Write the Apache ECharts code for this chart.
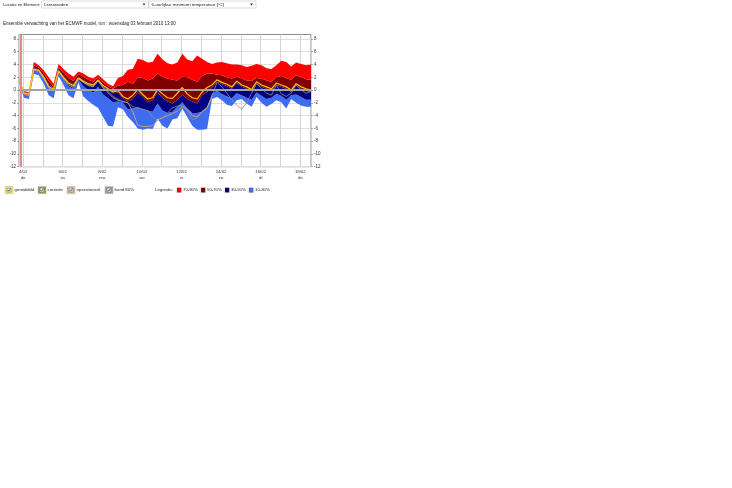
<!DOCTYPE html>
<html><head><meta charset="utf-8">
<script src="https://cdn.jsdelivr.net/npm/echarts@6/dist/echarts.min.js"></script>
<style>html,body{margin:0;padding:0;background:#fff}#c{width:732px;height:488px}</style>
</head><body><div id="c"></div>
<script>
// ---- data (6-hourly steps after run 03-02-2010 13:00) ----
const runStartUTC = Date.UTC(2010, 1, 3, 13);
const stepHours = 6;
const p10 = [1.3,-1.2,-1.4,2.5,2.3,1.0,-0.8,-1.3,2.2,0.8, -0.8,-1.3,1.2,-1.0,-1.7,-2.3,-2.8,-4.2,-5.6,-5.7, -2.7,-3.0,-4.2,-5.0,-6.0,-6.2,-6.0,-6.1,-4.5,-5.6, -6.0,-4.6,-4.4,-2.9,-4.2,-5.6,-6.2,-6.2,-6.1,-1.4, -1.1,-1.6,-2.3,-2.5,-1.6,-1.4,-2.1,-2.6,-1.1,-2.0, -2.6,-2.2,-1.6,-1.9,-2.9,-1.4,-2.0,-2.4,-2.6,-2.6];
const p30 = [1.4,-0.7,-0.9,3.1,2.9,1.8,0.4,-0.3,2.8,1.7, 0.6,0.2,1.7,0.6,0.0,-0.4,0.5,-0.7,-1.3,-1.9, -1.8,-2.0,-3.0,-2.9,-2.7,-3.0,-3.2,-3.4,-2.1,-3.2, -3.6,-3.4,-2.6,-1.9,-2.9,-3.6,-3.6,-3.4,-2.8,-0.6, -0.1,-0.6,-1.0,-1.3,-0.5,-0.8,-1.2,-1.5,-0.4,-0.9, -1.4,-1.2,-0.6,-0.9,-1.5,-0.8,-0.7,-1.1,-1.5,-1.5];
const p50 = [1.5,-0.5,-0.7,3.5,3.2,2.2,0.9,0.2,3.1,2.2, 1.3,0.9,2.1,1.4,0.9,0.6,1.4,0.5,0.0,-0.5, -0.4,-1.3,-1.8,-1.4,-0.4,-1.1,-1.9,-1.6,-0.4,-1.2, -1.8,-2.1,-1.5,-0.7,-1.4,-1.8,-2.1,-0.8,-0.3,0.4, 1.3,0.9,0.6,0.2,1.1,0.5,0.2,-0.2,1.0,0.5, 0.2,-0.1,0.8,0.5,0.2,-0.3,0.7,0.2,-0.1,-0.3];
const p70 = [1.6,-0.35,-0.5,3.9,3.5,2.6,1.4,0.5,3.5,2.7, 1.9,1.4,2.5,2.1,1.6,1.3,2.0,1.2,0.6,0.2, 0.7,0.8,1.3,1.0,2.0,1.9,1.5,1.8,2.6,2.1, 1.8,1.6,1.5,2.1,2.0,1.6,1.3,2.2,2.6,2.6, 2.4,2.3,2.0,1.8,2.1,1.8,1.5,1.4,1.9,1.8, 1.5,1.3,2.0,2.2,1.9,1.6,2.3,2.0,1.7,1.6];
const p90 = [1.7,-0.2,-0.3,4.4,3.9,3.1,2.0,1.0,4.1,3.3, 2.6,2.1,2.9,2.6,2.1,1.8,2.4,1.7,1.0,0.6, 1.9,2.2,3.2,3.3,4.9,4.7,4.3,4.4,5.7,4.8, 4.2,4.0,4.3,5.7,4.8,4.5,5.4,4.9,4.4,4.1, 4.3,4.4,4.2,4.0,4.0,3.9,3.6,3.8,4.1,3.9, 3.4,3.3,3.9,4.6,4.4,3.7,4.3,4.1,3.9,4.0];
const gemiddeld = [1.5,-0.5,-0.6,3.3,3.1,2.0,0.6,0.1,3.0,2.0, 1.1,0.7,1.9,1.4,1.0,0.8,1.6,0.7,0.2,-0.3, -0.1,-1.0,-1.4,-0.8,0.1,-0.7,-1.4,-1.2,0.1,-0.6, -1.2,-1.3,-0.5,0.4,-0.6,-1.2,-1.4,-0.3,0.4,0.8, 1.6,1.2,0.9,0.5,1.4,0.8,0.5,0.1,1.3,0.8, 0.5,0.2,1.1,0.8,0.5,0.0,1.0,0.5,0.2,0.0];
const controle = [1.6,-0.6,-0.8,3.2,3.0,1.9,0.5,0.0,2.9,1.8, 1.0,0.5,1.8,1.2,0.8,0.6,1.4,0.3,-0.2,-1.0, -1.4,-1.8,-2.0,-2.6,-2.8,-3.0,-3.2,-4.2,-4.7,-4.4, -3.6,-2.8,-2.5,-2.4,-3.2,-4.6,-4.4,-3.3,-2.7,-1.0, 1.2,0.5,-0.5,-1.5,-2.4,-3.0,-2.0,-0.5,1.0,0.3, -0.5,-0.8,0.8,-0.6,-1.0,-0.5,0.8,0.0,-0.5,-0.2];
const operationeel = [1.8,-0.6,-0.9,3.2,3.0,1.8,0.4,-0.2,3.0,1.8, 0.8,0.4,1.8,1.2,0.7,0.5,1.5,0.4,-0.4,-1.2, -1.6,-1.8,-2.0,-3.4,-5.5,-5.7,-5.7,-5.6,-4.7,-4.3, -4.0,-3.7,-3.3,-2.6,-3.0,-4.0,-4.2,-3.4,-2.8,-1.0];

const yTicks = [-12,-10,-8,-6,-4,-2,0,2,4,6,8];
const xTickDates = ['2010-02-04','2010-02-06','2010-02-08','2010-02-10','2010-02-12','2010-02-14','2010-02-16','2010-02-18'];
const xTickLabels = ['4/02','6/02','8/02','10/02','12/02','14/02','16/02','18/02'];
const xTickDays = ['do','za','ma','wo','vr','zo','di','do'];
const lineLegendNames = ['gemiddeld','controle','operationeel','band 80%'];
const bandLegendNames = ['70-90%','50-70%','30-50%','10-30%'];
const headerLabel = 'Locatie en Element:';
const locationName = 'Leeuwarden';
const elementName = '6-uurlijkse minimum temperatuur [°C]';
const titleText = 'Ensemble verwachting van het ECMWF model, run : woensdag 03 februari 2010 13:00';
const nowMarker = '2010-02-03T21:00:00Z';

// ---- styles ----
const FONT = '"Liberation Sans", Arial, sans-serif';
const bandColors = ['#ff0000', '#800000', '#000080', '#3d6cf2'];
const boxColors = ['#f6f06e', '#a3a04c', '#d8c08e', '#a6a6a6'];

const times = p10.map((_, k) => runStartUTC + (k + 1) * stepHours * 3600e3);
const pair = arr => arr.map((v, k) => [times[k], v]);
const diff = (a, b) => a.map((v, k) => [times[k], Math.round((v - b[k]) * 1000) / 1000]);
const xTickTimes = xTickDates.map(s => Date.parse(s + 'T00:00:00Z'));

const bandSeries = (name, data, color) => ({
  name, type: 'line', stack: 'band', stackStrategy: 'all', data, symbol: 'none',
  lineStyle: { width: 0, opacity: 0 }, areaStyle: { color, opacity: 1 },
  silent: true, z: 2, animation: false
});

const series = [
  { name: 'base', type: 'line', stack: 'band', stackStrategy: 'all', data: pair(p10), symbol: 'none',
    lineStyle: { width: 0, opacity: 0 }, silent: true, z: 1, animation: false,
    markLine: { silent: true, symbol: 'none', animation: false, label: { show: false },
      data: [
        { yAxis: 0, lineStyle: { color: '#a3a3a3', width: 2, type: 'solid' } },
        { xAxis: Date.parse(nowMarker), lineStyle: { color: '#e58a8a', width: 2, type: 'solid' } }
      ] } },
  bandSeries('10-30%', diff(p30, p10), bandColors[3]),
  bandSeries('30-50%', diff(p50, p30), bandColors[2]),
  bandSeries('50-70%', diff(p70, p50), bandColors[1]),
  bandSeries('70-90%', diff(p90, p70), bandColors[0]),
  { name: 'controle', type: 'line', data: pair(controle), symbol: 'none', z: 3, animation: false,
    lineStyle: { color: '#8e8e86', width: 0.8 } },
  { name: 'operationeel', type: 'line', data: pair(operationeel), symbol: 'none', z: 3, animation: false,
    lineStyle: { color: '#d6ad70', width: 0.8 } },
  { name: 'gemiddeld', type: 'line', data: pair(gemiddeld), symbol: 'none', z: 4, animation: false,
    lineStyle: { color: '#ffc414', width: 1.2 } }
];

// ---- graphic (header + legend) ----
const txt = (text, x, y, size, extra) => ({ type: 'text', x, y, silent: true,
  style: Object.assign({ text, fontSize: size, fontFamily: FONT, fill: '#222', verticalAlign: 'middle', align: 'left' }, extra || {}) });
const graphics = [];
graphics.push(txt(headerLabel, 3, 4.6, 4.2));
[[41.5, locationName], [149, elementName]].forEach(([x0, t]) => {
  graphics.push({ type: 'rect', shape: { x: x0, y: 1, width: 107, height: 7 }, silent: true,
    style: { fill: '#fff', stroke: '#c8c8c8', lineWidth: 0.6 } });
  graphics.push(txt(t, x0 + 2.5, 4.6, 4.4));
  graphics.push({ type: 'polygon', shape: { points: [[x0 + 101, 3.6], [x0 + 104, 3.6], [x0 + 102.5, 5.4]] }, silent: true,
    style: { fill: '#333' } });
});
graphics.push(txt(titleText, 3, 23.4, 4.5));

const boxX = [5, 38, 67, 105];
lineLegendNames.forEach((n, i) => {
  const x0 = boxX[i], y0 = 186.6;
  graphics.push({ type: 'rect', shape: { x: x0, y: y0, width: 8, height: 7 }, silent: true,
    style: { fill: boxColors[i], stroke: '#999', lineWidth: 0.4 } });
  graphics.push({ type: 'rect', shape: { x: x0 + 2, y: y0 + 1.5, width: 4, height: 4 }, silent: true,
    style: { fill: '#f4f4f4', stroke: '#555', lineWidth: 0.5 } });
  graphics.push({ type: 'polyline', shape: { points: [[x0 + 2.7, y0 + 3.4], [x0 + 3.7, y0 + 4.6], [x0 + 5.4, y0 + 2.1]] }, silent: true,
    style: { stroke: '#222', lineWidth: 0.7, fill: null } });
  graphics.push(txt(n, x0 + 9.6, 190.2, 4.3));
});
graphics.push(txt('Legenda:', 155, 190.2, 4.3));
const sqX = [177, 201, 225, 249];
bandLegendNames.forEach((n, i) => {
  graphics.push({ type: 'rect', shape: { x: sqX[i], y: 187.8, width: 4.2, height: 4.6 }, silent: true,
    style: { fill: bandColors[i], stroke: '#555', lineWidth: 0.3 } });
  graphics.push(txt(n, sqX[i] + 6, 190.2, 4.3));
});

const yAxisBase = {
  type: 'value', min: -12, max: 8.7, interval: 2,
  axisLine: { show: false },
  axisTick: { show: true, length: 2, customValues: yTicks, lineStyle: { color: '#777', width: 0.6 } },
  axisLabel: { fontSize: 4.5, color: '#333', margin: 3, fontFamily: FONT, customValues: yTicks }
};

const option = {
  useUTC: true,
  animation: false,
  backgroundColor: '#ffffff',
  grid: { left: 19, right: 421, top: 34.5, bottom: 321.3, show: true, borderColor: '#8a8a8a', borderWidth: 1, backgroundColor: 'rgba(0,0,0,0)' },
  xAxis: {
    type: 'time', min: times[0], max: times[times.length - 1],
    minInterval: 86400000, maxInterval: 86400000, splitNumber: 15,
    axisLine: { show: false }, axisTick: { show: false },
    splitLine: { show: true, lineStyle: { color: '#d4d4d4', width: 1 } },
    axisLabel: {
      fontSize: 4.3, lineHeight: 6, color: '#333', margin: 2.5, fontFamily: FONT, hideOverlap: false,
      formatter: (val) => {
        const i = xTickTimes.indexOf(+val);
        return i >= 0 ? xTickLabels[i] + '\n' + xTickDays[i] : '';
      }
    }
  },
  yAxis: [
    Object.assign({}, yAxisBase, { position: 'left', splitLine: { show: true, lineStyle: { color: '#dedede', width: 1 } } }),
    Object.assign({}, yAxisBase, { position: 'right', splitLine: { show: false } })
  ],
  series,
  graphic: { elements: graphics }
};

const chart = echarts.init(document.getElementById('c'), null, { renderer: 'canvas' });
chart.setOption(option);
</script>
</body></html>
